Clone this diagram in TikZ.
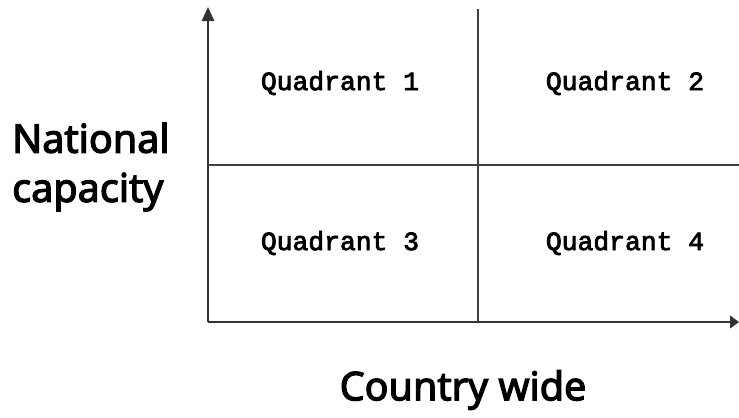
\documentclass[tikz,border=0pt]{standalone}
\usepackage{fontspec}
\setmainfont{Noto Sans}
\newfontfamily\labelfont{Noto Sans}[FakeBold=3]
\newfontfamily\quadfont{Liberation Mono}[FakeBold=3]
\usetikzlibrary{arrows.meta}

\begin{document}
\begin{tikzpicture}[x=0.02cm,y=-0.02cm,
    axis/.style={line width=1.3pt,draw=black!80},
    divider/.style={line width=1.3pt,draw=black!75},
    quad/.style={font=\quadfont\fontsize{15}{17}\selectfont},
    axislabel/.style={font=\labelfont\fontsize{22.5}{28}\selectfont}]
            \useasboundingbox (0,0) rectangle (739,417);
            \coordinate (O) at (208,322);
            \coordinate (T) at (208,7);
            \coordinate (R) at (739,322);
            \coordinate (VT) at (478,9);
            \coordinate (VB) at (478,322);
            \coordinate (HL) at (208,165);
            \coordinate (HR) at (739,165);

            \draw[axis,-{Triangle[length=8pt,width=7pt]}] (O)--(T);
            \draw[axis,-{Triangle[length=5pt,width=7pt]}] (O)--(R);
            \draw[divider] (VT)--(VB);
            \draw[divider] (HL)--(HR);

            \foreach \name/\x/\y in {
                q1/340/83,q2/625/83,q3/340/243,q4/625/243
            }{
                \node[quad] (\name) at (\x,\y) {};
            }
            \node[quad] at (q1) {Quadrant 1};
            \node[quad] at (q2) {Quadrant 2};
            \node[quad] at (q3) {Quadrant 3};
            \node[quad] at (q4) {Quadrant 4};

            \node[axislabel,align=left,anchor=west] (ylabel) at (6,167) {National\\capacity};
            \node[axislabel] (xlabel) at (463,390) {Country wide};
        \end{tikzpicture}
\end{document}
